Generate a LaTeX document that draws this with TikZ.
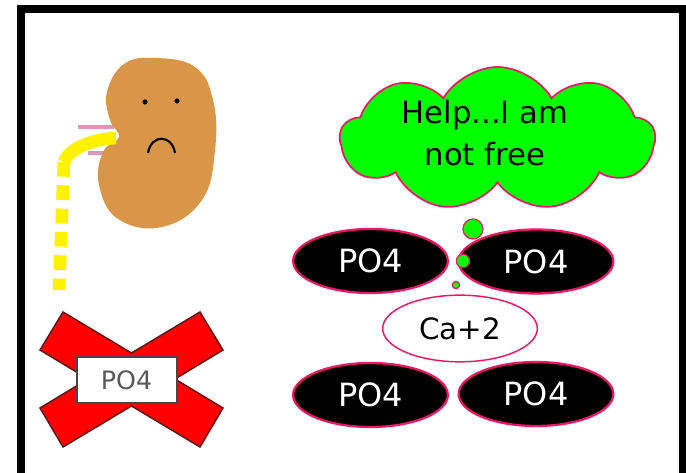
\documentclass[tikz,border=0pt]{standalone}
\definecolor{kidneybrown}{RGB}{217, 150, 72}
\definecolor{rimpink}{RGB}{235, 25, 100}
\definecolor{vesselpink}{RGB}{222, 150, 180}
\definecolor{thoughtgreen}{RGB}{0, 255, 0}
\definecolor{crossred}{RGB}{255, 0, 0}
\definecolor{crossrim}{RGB}{95, 20, 20}
\usepackage{fontspec}
\setmainfont{DejaVu Sans}
\usepackage{tikz}
\usetikzlibrary{shapes.geometric, shapes.symbols}

\begin{document}
\begin{tikzpicture}[
  x=0.75pt, y=-0.75pt,
  ion/.style={ellipse, draw=rimpink, line width=1.7pt, fill=black, text=white, minimum width=116pt, minimum height=48pt, inner sep=0pt, font=\fontsize{24}{24}\selectfont},
  calcium/.style={ellipse, draw=rimpink, line width=1.1pt, fill=white, minimum width=116pt, minimum height=50pt, inner sep=0pt, font=\fontsize{22}{22}\selectfont},
  bubble/.style={circle, draw=rimpink, line width=0.9pt, fill=thoughtgreen, inner sep=0pt},
  ureter/.style={draw=yellow, line width=9.5pt}
]
  \useasboundingbox (0,0) rectangle (686,473);
  \clip (0,0) rectangle (686,473);
  % outer frame
  \draw[line width=6pt] (21,9) rectangle (683,477);

  % kidney with its vessels
  \draw[vesselpink, line width=3.5pt] (78,127) -- (114,127);
  \draw[vesselpink, line width=3.5pt] (88,153) -- (108,153);
  \fill[kidneybrown] plot[smooth cycle, tension=0.7] coordinates {
    (155,58) (195,67) (213,100) (215,150) (202,200) (162,227) (118,219)
    (99,185) (103,152) (119,137) (110,120) (107,92) (124,64)};
  \fill (145,102) circle (2.6);
  \fill (177,101) circle (2.6);
  \draw[line width=1.6pt] (148,153) .. controls (151,134) and (172,134) .. (175,153);
  \coordinate (hilum) at (116,138);
  \coordinate (bend) at (64,162);
  \coordinate (tail) at (59,290);
  \path[ureter] (hilum) .. controls (95,139) and (70,147) .. (bend);
  \path[ureter, dash pattern=on 11pt off 6.5pt] (bend) -- (tail);

  % crossed-out phosphate
  \filldraw[fill=crossred, draw=crossrim, line width=1.1pt]
    (63,312) -- (131.5,353) -- (200,312) -- (223,350) -- (175,379) -- (223,408)
    -- (200,447) -- (131.5,406) -- (63,447) -- (40,408) -- (88,379) -- (40,350) -- cycle;
  \node[draw=gray!55!black, line width=1.5pt, fill=white, minimum width=75pt, minimum height=34pt,
    inner sep=0pt, text=gray!70!black, font=\fontsize{19}{19}\selectfont] (lost) at (126.5,380) {PO4};

  % the trapped phosphates
  \node[ion] (tl) at (370.5,261) {PO4};
  \node[ion] (tr) at (536,261.5) {PO4};
  \node[calcium] (ca) at (460,328.5) {Ca+2};
  \node[ion] (bl) at (370.5,395) {PO4};
  \node[ion] (br) at (536,394) {PO4};

  % thought
  \node[cloud, cloud puffs=9, cloud puff arc=120, cloud ignores aspect, draw=rimpink, line width=1.3pt,
    fill=thoughtgreen, minimum width=236pt, minimum height=108pt, inner sep=0pt] (cloud) at (497.5,139) {};
  \node[align=center, font=\fontsize{23}{31}\selectfont] (think) at (485,133) {Help...I am\\not free};
  \node[bubble, minimum size=15pt] (b1) at (473,229) {};
  \node[bubble, minimum size=10pt] (b2) at (463,261) {};
  \node[bubble, minimum size=5.5pt] (b3) at (456,285) {};
\end{tikzpicture}
\end{document}
